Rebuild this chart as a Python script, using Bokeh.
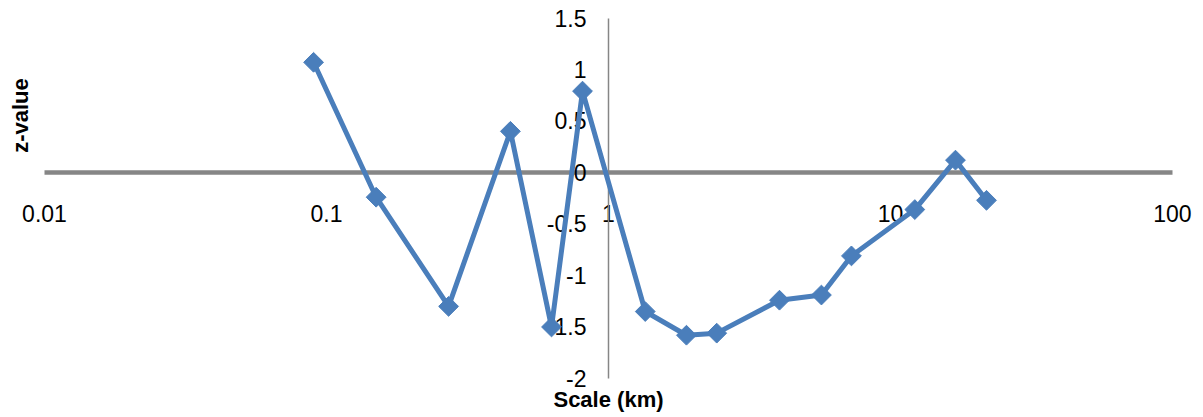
import math
from bokeh.plotting import figure
from bokeh.models import LogAxis, LinearAxis, FixedTicker, Label, Range1d, ColumnDataSource
from bokeh.embed import file_html
from bokeh.resources import INLINE

# ---- data ----
scale_km = [0.09, 0.150, 0.271, 0.449, 0.628, 0.809, 1.35, 1.89, 2.42, 4.04, 5.69, 7.27, 12.2, 17.0, 21.9]
z_value = [1.07, -0.24, -1.30, 0.40, -1.50, 0.79, -1.35, -1.58, -1.56, -1.24, -1.19, -0.81, -0.36, 0.12, -0.27]

x_ticks = [0.01, 0.1, 1, 10, 100]
x_tick_labels = ["0.01", "0.1", "1", "10", "100"]
y_ticks = [-2, -1.5, -1, -0.5, 0, 0.5, 1, 1.5]
y_tick_labels = ["-2", "-1.5", "-1", "-0.5", "0", "0.5", "1", "1.5"]

x_title = "Scale (km)"
y_title = "z-value"

# ---- figure (frame covers whole canvas; axes drawn at fixed locations) ----
FONT = "Liberation Sans"
p = figure(width=1203, height=417, x_axis_type="log",
           x_range=Range1d(10 ** -2.156, 10 ** 2.110), y_range=Range1d(-2.379, 1.670),
           x_axis_location=None, y_axis_location=None,
           toolbar_location=None, output_backend="svg",
           min_border_left=0, min_border_right=0,
           min_border_top=0, min_border_bottom=0)
p.outline_line_color = None
p.grid.grid_line_color = None
p.background_fill_color = "white"
p.border_fill_color = "white"

xaxis = LogAxis(fixed_location=0, bounds=(x_ticks[0], x_ticks[-1]),
                ticker=FixedTicker(ticks=x_ticks),
                major_label_overrides=dict(zip(x_ticks, x_tick_labels)),
                axis_line_color="#868686", axis_line_width=4.5,
                major_tick_line_color=None, minor_tick_line_color=None,
                major_tick_out=0, major_tick_in=0, minor_tick_out=0, minor_tick_in=0,
                major_label_standoff=33,
                major_label_text_font=FONT, major_label_text_font_size="23px",
                major_label_text_color="black", level="underlay")
p.add_layout(xaxis, "below")

yaxis = LinearAxis(fixed_location=1, bounds=(y_ticks[0], y_ticks[-1]),
                   ticker=FixedTicker(ticks=y_ticks),
                   major_label_overrides=dict(zip(y_ticks, y_tick_labels)),
                   axis_line_color="#868686", axis_line_width=1.5,
                   major_tick_line_color=None, minor_tick_line_color=None,
                   major_tick_out=0, major_tick_in=0, minor_tick_out=0, minor_tick_in=0,
                   major_label_standoff=22,
                   major_label_text_font=FONT, major_label_text_font_size="23px",
                   major_label_text_color="black", level="underlay")
p.add_layout(yaxis, "left")

p.add_layout(Label(x=1, y=-2.20, text=x_title, text_font=FONT,
                   text_font_size="22px", text_font_style="bold",
                   text_color="black", text_align="center", text_baseline="middle"))
p.add_layout(Label(x=10 ** (-2.156 + 20 / 282), y=0.553, text=y_title, angle=math.pi / 2,
                   text_font=FONT, text_font_size="22px", text_font_style="bold",
                   text_color="black", text_align="center", text_baseline="middle"))

src = ColumnDataSource(dict(x=scale_km, y=z_value))
p.line("x", "y", source=src, line_color="#4A7EBB", line_width=5)
p.scatter("x", "y", source=src, marker="square", size=14, angle=math.pi / 4,
          fill_color="#4A7EBB", line_color="#4A7EBB")

open("out.html", "w").write(file_html(p, INLINE))
